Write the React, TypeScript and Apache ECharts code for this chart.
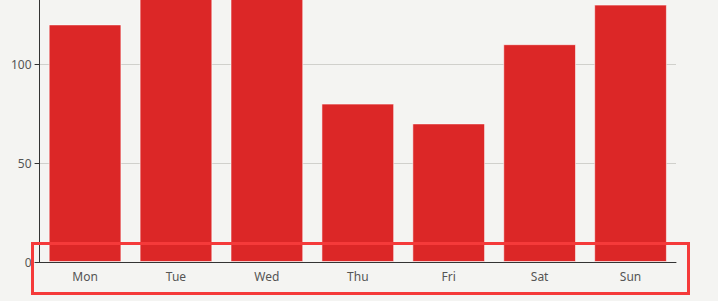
import React, { useEffect, useRef } from "react";
import * as echarts from "echarts";

const days = ["Mon", "Tue", "Wed", "Thu", "Fri", "Sat", "Sun"];
const sales = [120, 200, 150, 80, 70, 110, 130];

export default function App() {
  const ref = useRef<HTMLDivElement>(null);

  useEffect(() => {
    document.body.style.background = "#f4f4f2";
    document.body.style.overflow = "hidden";
    const chart = echarts.init(ref.current!, null, { renderer: "svg" });
    chart.setOption({
      animation: false,
      backgroundColor: "#f4f4f2",
      textStyle: { fontFamily: "Noto Sans, sans-serif" },
      grid: { left: 28, right: 34, top: 15, bottom: 39, containLabel: false },
      xAxis: {
        type: "category",
        data: days,
        axisLine: { lineStyle: { color: "#333" } },
        axisTick: { alignWithLabel: true, lineStyle: { color: "#333" } },
        axisLabel: { color: "#555", fontSize: 12, margin: 8 },
      },
      yAxis: {
        type: "value",
        min: 0,
        max: 150,
        interval: 50,
        axisLine: { show: true, lineStyle: { color: "#333" } },
        axisTick: { show: true, lineStyle: { color: "#333" } },
        axisLabel: { color: "#555", fontSize: 12, showMaxLabel: false },
        splitLine: { lineStyle: { color: "#d0d0cc" } },
      },
      series: [
        {
          type: "bar",
          data: sales,
          barCategoryGap: "20%",
          itemStyle: {
            color: "#dc2727",
            borderColor: "rgba(255,255,255,0.55)",
            borderWidth: 1,
          },
        },
      ],
      graphic: [
        {
          type: "rect",
          left: 22,
          top: 291,
          shape: { width: 656, height: 50 },
          style: { fill: "none", stroke: "#f53a3a", lineWidth: 3 },
          z: 100,
        },
      ],
    });
    return () => chart.dispose();
  }, []);

  return (
    <div
      ref={ref}
      style={{ position: "absolute", left: 8, top: -50, width: 702, height: 351 }}
    />
  );
}
